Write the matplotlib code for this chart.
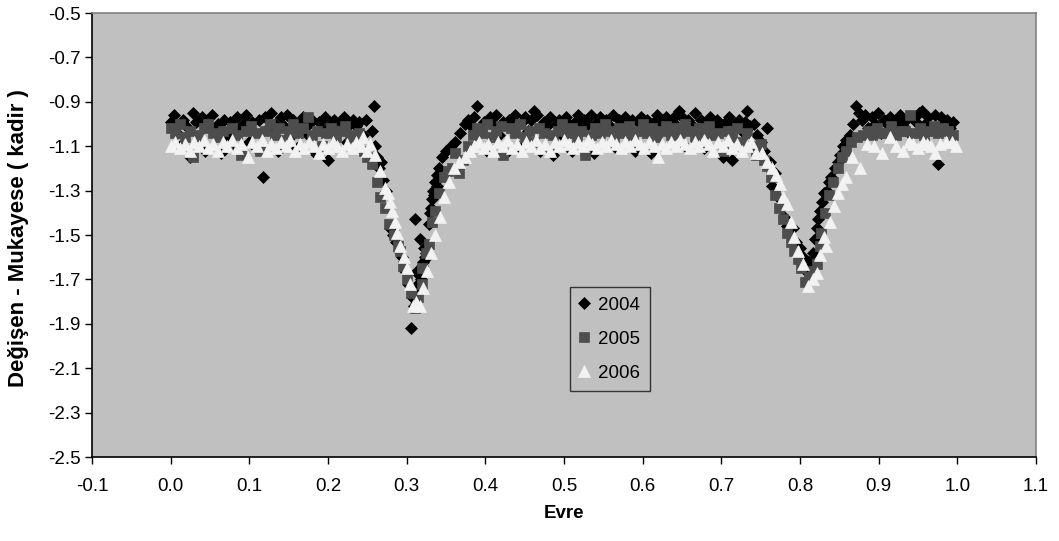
import matplotlib
matplotlib.use("Agg")
import matplotlib.pyplot as plt

# ---------------- data ----------------
phase_2004 = [
    0.000, 0.004, 0.008, 0.012, 0.016, 0.020, 0.024, 0.028, 0.032, 0.036,
    0.040, 0.044, 0.048, 0.052, 0.056, 0.060, 0.064, 0.068, 0.072, 0.076,
    0.080, 0.084, 0.088, 0.092, 0.096, 0.100, 0.104, 0.108, 0.112, 0.117,
    0.120, 0.124, 0.128, 0.132, 0.136, 0.140, 0.144, 0.148, 0.152, 0.156,
    0.160, 0.164, 0.168, 0.172, 0.176, 0.180, 0.184, 0.188, 0.192, 0.196,
    0.200, 0.204, 0.208, 0.212, 0.216, 0.220, 0.224, 0.228, 0.232, 0.236,
    0.240, 0.244, 0.248, 0.256, 0.258,
    0.260, 0.262, 0.265, 0.268, 0.270, 0.274, 0.277, 0.279, 0.282, 0.286,
    0.290, 0.294, 0.298, 0.302, 0.305, 0.307, 0.309, 0.311,
    0.312, 0.314, 0.316, 0.317, 0.319, 0.321, 0.323, 0.325, 0.328, 0.330,
    0.332, 0.334, 0.336, 0.338, 0.341, 0.345, 0.350, 0.356, 0.362, 0.368,
    0.374, 0.378, 0.313, 0.318, 0.322, 0.326, 0.331, 0.335, 0.339,
    0.382, 0.386, 0.390, 0.394, 0.398, 0.402, 0.406, 0.410, 0.414, 0.418,
    0.422, 0.426, 0.430, 0.434, 0.438, 0.442, 0.446, 0.450, 0.454, 0.458,
    0.462, 0.466, 0.470, 0.474, 0.478, 0.482, 0.486, 0.490, 0.494, 0.498,
    0.502, 0.506, 0.510, 0.514, 0.518, 0.522, 0.526, 0.530, 0.534, 0.538,
    0.542, 0.546, 0.550, 0.554, 0.558, 0.562, 0.566, 0.570, 0.574, 0.578,
    0.582, 0.586, 0.590, 0.594, 0.598, 0.602, 0.606, 0.610, 0.614, 0.618,
    0.622, 0.626, 0.630, 0.634, 0.638, 0.642, 0.646, 0.650, 0.654, 0.658,
    0.662, 0.666, 0.670, 0.674, 0.678, 0.682, 0.686, 0.690, 0.694, 0.698,
    0.702, 0.706, 0.710, 0.714, 0.718, 0.722, 0.726, 0.730, 0.733, 0.737,
    0.741, 0.745,
    0.750, 0.754, 0.758, 0.762, 0.765, 0.768, 0.772, 0.776, 0.780, 0.783,
    0.787, 0.791, 0.795, 0.800, 0.804, 0.808, 0.811, 0.813, 0.816, 0.819,
    0.821, 0.823, 0.825, 0.828, 0.831, 0.834, 0.837, 0.840, 0.844, 0.848,
    0.851, 0.855, 0.859, 0.863, 0.867, 0.871, 0.875, 0.879,
    0.883, 0.887, 0.891, 0.895, 0.899, 0.903, 0.907, 0.911, 0.915, 0.919,
    0.923, 0.927, 0.931, 0.935, 0.939, 0.943, 0.947, 0.951, 0.955, 0.959,
    0.963, 0.967, 0.971, 0.975, 0.979, 0.983, 0.987, 0.991, 0.995,
]
mag_2004 = [
    -0.99, -0.96, -1.04, -1.10, -0.98, -1.01, -1.15, -0.95, -0.99, -1.07,
    -0.97, -1.12, -1.00, -0.96, -1.03, -1.00, -1.13, -0.98, -1.05, -0.99,
    -1.10, -0.97, -1.02, -1.00, -0.96, -1.08, -0.99, -1.11, -0.98, -1.24,
    -0.97, -1.02, -0.95, -1.00, -1.12, -0.97, -1.01, -0.96, -1.06, -0.98,
    -1.11, -0.99, -0.97, -1.04, -1.00, -0.98, -1.13, -0.99, -1.02, -0.97,
    -1.16, -1.00, -0.98, -1.03, -0.99, -0.97, -1.08, -1.00, -0.98, -1.01,
    -0.99, -1.05, -0.98, -1.03, -0.92,
    -1.10, -1.15, -1.20, -1.17, -1.25, -1.30, -1.38, -1.47, -1.50, -1.53,
    -1.57, -1.60, -1.66, -1.72, -1.92, -1.78, -1.82, -1.43,
    -1.76, -1.72, -1.68, -1.52, -1.64, -1.62, -1.60, -1.58, -1.45, -1.40,
    -1.34, -1.30, -1.26, -1.23, -1.20, -1.15, -1.12, -1.10, -1.08, -1.04,
    -1.00, -0.98, -1.66, -1.70, -1.56, -1.60, -1.38, -1.32, -1.28,
    -1.01, -0.97, -0.92, -1.03, -0.99, -1.12, -0.97, -1.00, -0.96, -1.05,
    -0.99, -1.13, -0.98, -1.01, -0.96, -1.10, -0.99, -0.97, -1.03, -0.98,
    -0.94, -0.96, -1.12, -0.99, -1.01, -0.97, -1.14, -1.00, -0.98, -1.05,
    -0.97, -1.00, -1.12, -0.99, -0.96, -1.02, -0.98, -1.00, -0.96, -1.13,
    -0.99, -0.97, -1.03, -0.98, -1.01, -0.96, -1.11, -0.98, -1.00, -0.97,
    -1.04, -0.98, -1.12, -0.99, -0.97, -1.01, -0.98, -1.13, -0.99, -0.96,
    -1.02, -0.98, -0.97, -1.04, -0.99, -0.96, -0.94, -0.97, -1.10, -0.98,
    -1.00, -0.95, -1.03, -0.98, -1.11, -0.99, -0.97, -1.02, -0.98, -1.00,
    -1.15, -0.99, -0.97, -1.16, -1.00, -0.98, -1.03, -0.99, -0.94, -1.01,
    -1.00, -1.05,
    -1.08, -1.12, -1.02, -1.17, -1.28, -1.22, -1.33, -1.38, -1.42, -1.46,
    -1.50, -1.47, -1.53, -1.56, -1.60, -1.66, -1.62, -1.70, -1.58, -1.52,
    -1.47, -1.43, -1.39, -1.35, -1.31, -1.30, -1.26, -1.24, -1.20, -1.17,
    -1.14, -1.10, -1.07, -1.05, -1.00, -0.92, -0.95, -0.98,
    -0.96, -1.02, -0.97, -1.00, -0.95, -1.04, -0.98, -1.00, -0.97, -1.03,
    -0.99, -0.96, -1.01, -0.98, -1.04, -0.97, -0.99, -0.95, -0.94, -1.00,
    -0.97, -1.02, -0.96, -1.18, -0.97, -1.00, -0.98, -1.02, -0.99,
]

phase_2005 = [
    0.000, 0.006, 0.012, 0.018, 0.024, 0.029, 0.036, 0.042, 0.048, 0.054,
    0.060, 0.066, 0.072, 0.078, 0.084, 0.090, 0.096, 0.102, 0.108, 0.114,
    0.120, 0.126, 0.132, 0.138, 0.144, 0.150, 0.156, 0.162, 0.168, 0.174,
    0.180, 0.186, 0.192, 0.198, 0.204, 0.210, 0.216, 0.222, 0.228, 0.234,
    0.240, 0.246, 0.250,
    0.256, 0.262, 0.266, 0.272, 0.278, 0.284, 0.289, 0.291, 0.295, 0.300,
    0.305, 0.310, 0.315, 0.319, 0.320, 0.325, 0.329, 0.332, 0.336, 0.341,
    0.347, 0.352, 0.357, 0.361, 0.366, 0.372, 0.378,
    0.384, 0.390, 0.396, 0.402, 0.408, 0.414, 0.420, 0.423, 0.432, 0.438,
    0.444, 0.450, 0.456, 0.462, 0.468, 0.474, 0.482, 0.486, 0.492, 0.498,
    0.504, 0.510, 0.516, 0.522, 0.527, 0.534, 0.540, 0.546, 0.552, 0.558,
    0.564, 0.570, 0.576, 0.582, 0.588, 0.594, 0.600, 0.606, 0.612, 0.618,
    0.624, 0.630, 0.636, 0.642, 0.648, 0.654, 0.660, 0.666, 0.672, 0.678,
    0.684, 0.690, 0.696, 0.702, 0.708, 0.714, 0.720, 0.726, 0.732, 0.738,
    0.744,
    0.750, 0.754, 0.758, 0.763, 0.768, 0.773, 0.778, 0.783, 0.788, 0.793,
    0.797, 0.801, 0.806, 0.811, 0.816, 0.821, 0.825, 0.827, 0.832, 0.837,
    0.842, 0.848, 0.853, 0.859, 0.865, 0.872, 0.880,
    0.886, 0.892, 0.898, 0.904, 0.910, 0.916, 0.922, 0.928, 0.934, 0.940,
    0.946, 0.952, 0.958, 0.964, 0.970, 0.976, 0.982, 0.988, 0.994,
]
mag_2005 = [
    -1.02, -1.04, -1.00, -1.06, -1.03, -1.15, -1.05, -1.02, -1.00, -1.04,
    -1.06, -1.03, -1.10, -1.02, -1.05, -1.14, -1.03, -1.01, -1.04, -1.12,
    -1.03, -1.00, -1.05, -1.02, -1.07, -1.03, -1.00, -1.04, -1.02, -0.97,
    -1.05, -1.03, -1.10, -1.04, -1.02, -1.06, -1.03, -1.01, -1.05, -1.08,
    -1.04, -1.12, -1.15,
    -1.18, -1.26, -1.33, -1.38, -1.45, -1.50, -1.55, -1.57, -1.64, -1.70,
    -1.76, -1.83, -1.78, -1.72, -1.65, -1.58, -1.54, -1.44, -1.39, -1.31,
    -1.24, -1.21, -1.20, -1.13, -1.22, -1.16, -1.10,
    -1.05, -1.02, -1.04, -1.00, -1.06, -1.03, -1.01, -1.14, -1.02, -1.04,
    -1.00, -1.06, -1.03, -1.08, -1.02, -1.04, -1.12, -1.05, -1.03, -1.00,
    -1.04, -1.02, -1.06, -1.03, -1.14, -1.05, -1.02, -1.04, -1.00, -1.03,
    -1.06, -1.02, -1.04, -1.01, -1.05, -1.03, -1.00, -1.04, -1.02, -1.06,
    -1.03, -1.01, -1.05, -1.02, -1.04, -1.00, -1.03, -1.06, -1.02, -1.04,
    -1.01, -1.05, -1.04, -1.12, -1.03, -1.06, -1.02, -1.08, -1.04, -1.10,
    -1.14,
    -1.09, -1.16, -1.19, -1.24, -1.32, -1.38, -1.43, -1.49, -1.53, -1.57,
    -1.61, -1.65, -1.71, -1.69, -1.66, -1.63, -1.55, -1.49, -1.40, -1.32,
    -1.26, -1.20, -1.15, -1.12, -1.08, -1.06, -1.05,
    -1.03, -1.05, -1.02, -1.04, -1.04, -1.01, -1.05, -1.03, -1.03, -0.96,
    -1.04, -1.02, -1.05, -1.03, -1.01, -1.04, -1.02, -1.03, -1.05,
]

phase_2006 = [
    0.000, 0.006, 0.012, 0.018, 0.024, 0.030, 0.036, 0.042, 0.048, 0.054,
    0.060, 0.066, 0.072, 0.078, 0.084, 0.090, 0.098, 0.104, 0.110, 0.116,
    0.122, 0.128, 0.134, 0.140, 0.146, 0.152, 0.158, 0.164, 0.170, 0.176,
    0.182, 0.188, 0.194, 0.200, 0.206, 0.212, 0.218, 0.224, 0.230, 0.236,
    0.242, 0.245, 0.250, 0.254, 0.260,
    0.266, 0.272, 0.276, 0.279, 0.281, 0.285, 0.288, 0.292, 0.296, 0.300,
    0.304, 0.308, 0.312, 0.317, 0.321, 0.326, 0.331, 0.336, 0.342, 0.348,
    0.354, 0.360, 0.367, 0.374, 0.380,
    0.386, 0.392, 0.398, 0.404, 0.410, 0.416, 0.422, 0.428, 0.434, 0.440,
    0.446, 0.452, 0.458, 0.464, 0.470, 0.476, 0.482, 0.488, 0.494, 0.500,
    0.506, 0.512, 0.518, 0.524, 0.530, 0.536, 0.542, 0.548, 0.554, 0.560,
    0.566, 0.572, 0.578, 0.584, 0.590, 0.596, 0.602, 0.608, 0.614, 0.619,
    0.624, 0.630, 0.636, 0.642, 0.648, 0.654, 0.660, 0.666, 0.672, 0.678,
    0.684, 0.690, 0.696, 0.702, 0.708, 0.714, 0.720, 0.726, 0.732, 0.738,
    0.744,
    0.752, 0.758, 0.764, 0.770, 0.774, 0.778, 0.783, 0.788, 0.793, 0.798,
    0.804, 0.810, 0.816, 0.821, 0.826, 0.831, 0.833, 0.838, 0.843, 0.848,
    0.853, 0.859, 0.866, 0.876, 0.885,
    0.894, 0.904, 0.914, 0.922, 0.931, 0.938, 0.944, 0.950, 0.956, 0.962,
    0.967, 0.972, 0.978, 0.986, 0.993, 0.998,
]
mag_2006 = [
    -1.10, -1.08, -1.11, -1.09, -1.12, -1.08, -1.10, -1.07, -1.11, -1.09,
    -1.12, -1.08, -1.10, -1.07, -1.11, -1.09, -1.15, -1.08, -1.10, -1.07,
    -1.12, -1.09, -1.11, -1.08, -1.10, -1.07, -1.12, -1.09, -1.11, -1.08,
    -1.10, -1.13, -1.09, -1.11, -1.08, -1.10, -1.12, -1.09, -1.11, -1.08,
    -1.10, -1.06, -1.12, -1.09, -1.14,
    -1.21, -1.29, -1.31, -1.35, -1.39, -1.44, -1.49, -1.55, -1.60, -1.65,
    -1.72, -1.82, -1.80, -1.82, -1.74, -1.66, -1.58, -1.50, -1.42, -1.33,
    -1.26, -1.20, -1.17, -1.15, -1.12,
    -1.10, -1.08, -1.11, -1.09, -1.12, -1.08, -1.10, -1.07, -1.11, -1.09,
    -1.12, -1.08, -1.10, -1.07, -1.11, -1.09, -1.12, -1.08, -1.10, -1.07,
    -1.09, -1.11, -1.08, -1.10, -1.07, -1.09, -1.11, -1.08, -1.10, -1.07,
    -1.09, -1.11, -1.08, -1.10, -1.07, -1.09, -1.11, -1.08, -1.10, -1.15,
    -1.09, -1.11, -1.08, -1.10, -1.07, -1.09, -1.11, -1.08, -1.10, -1.07,
    -1.09, -1.12, -1.08, -1.10, -1.07, -1.11, -1.09, -1.12, -1.10, -1.08,
    -1.13,
    -1.13, -1.17, -1.20, -1.23, -1.27, -1.33, -1.36, -1.44, -1.51, -1.57,
    -1.63, -1.73, -1.70, -1.67, -1.59, -1.51, -1.55, -1.44, -1.37, -1.31,
    -1.27, -1.24, -1.15, -1.20, -1.09,
    -1.10, -1.13, -1.06, -1.10, -1.12, -1.08, -1.09, -1.11, -1.08, -1.09,
    -1.10, -1.13, -1.09, -1.08, -1.08, -1.10,
]

series_labels = ["2004", "2005", "2006"]
x_ticks = [-0.1, 0.0, 0.1, 0.2, 0.3, 0.4, 0.5, 0.6, 0.7, 0.8, 0.9, 1.0, 1.1]
y_ticks = [-2.5, -2.3, -2.1, -1.9, -1.7, -1.5, -1.3, -1.1, -0.9, -0.7, -0.5]
x_label = "Evre"
y_label = "Değişen - Mukayese ( kadir )"

# ---------------- figure ----------------
plt.rcParams['font.family'] = ['Liberation Sans', 'DejaVu Sans']
W, H = 1059, 541
fig = plt.figure(figsize=(W / 100, H / 100), dpi=100)
fig.patch.set_facecolor('white')

L, R, T, B = 92, 1036, 13, 457
ax = fig.add_axes([L / W, 1 - B / H, (R - L) / W, (B - T) / H])
ax.set_facecolor('#c0c0c0')

styles = [
    dict(marker='D', ms=6.6, color='#000000'),
    dict(marker='s', ms=7.8, color='#4d4d4d'),
    dict(marker='^', ms=9.0, color='#f2f2f2'),
]
data = [(phase_2004, mag_2004), (phase_2005, mag_2005), (phase_2006, mag_2006)]
for (px, py), st, lab in zip(data, styles, series_labels):
    ax.plot(px, py, linestyle='none', marker=st['marker'], markersize=st['ms'],
            markerfacecolor=st['color'], markeredgecolor=st['color'],
            markeredgewidth=0.5, label=lab)

ax.set_xlim(-0.1, 1.1)
ax.set_ylim(-2.5, -0.5)
ax.set_xticks(x_ticks)
ax.set_xticklabels([f"{v:.1f}" for v in x_ticks])
ax.set_yticks(y_ticks)
ax.set_yticklabels([f"{v:.1f}" for v in y_ticks])
ax.tick_params(axis='both', direction='out', length=5, width=1, color='black',
               labelsize=13.5, labelcolor='black')
ax.tick_params(axis='x', pad=10)
ax.tick_params(axis='y', pad=3)

for s in ['left', 'bottom']:
    ax.spines[s].set_color('black')
    ax.spines[s].set_linewidth(1.2)
for s in ['top', 'right']:
    ax.spines[s].set_color('#808080')
    ax.spines[s].set_linewidth(1.2)

ax.set_xlabel(x_label, fontsize=13.5, fontweight='bold')
ax.xaxis.set_label_coords(0.5, -(514 - B) / (B - T), transform=ax.transAxes)
ax.set_ylabel(y_label, fontsize=16, fontweight='bold')
ax.yaxis.set_label_coords(-(L - 19) / (R - L), (B - 238) / (B - T),
                          transform=ax.transAxes)
ax.xaxis.label.set_va('center')
ax.yaxis.label.set_va('center')

leg = ax.legend(loc='upper left', bbox_to_anchor=(570 / W, 1 - 287 / H),
                bbox_transform=fig.transFigure, borderaxespad=0,
                numpoints=1, fontsize=13.5, frameon=True, fancybox=False,
                facecolor='#c0c0c0', edgecolor='#333333', framealpha=1,
                handlelength=0.5, handletextpad=0.5, labelspacing=0.9,
                borderpad=0.5)
leg.get_frame().set_linewidth(1.0)

fig.savefig('out.png', dpi=100, facecolor='white')
